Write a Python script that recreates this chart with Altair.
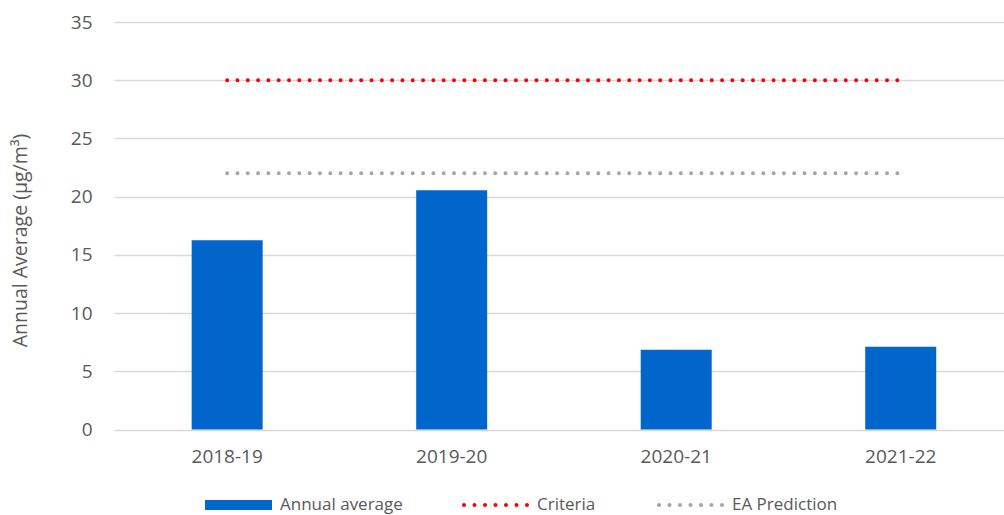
import altair as alt
import pandas as pd

# Annual mean concentration per monitoring year, with the two reference levels
years = ["2018-19", "2019-20", "2020-21", "2021-22"]
annual_average = [16.25, 20.55, 6.85, 7.1]
criteria = [30, 30, 30, 30]
ea_prediction = [22, 22, 22, 22]

series_names = ["Annual average", "Criteria", "EA Prediction"]
series_colors = ["#0066CC", "#FF0000", "#A6A6A6"]

bars = pd.DataFrame({"year": years, "value": annual_average, "series": series_names[0]})
crit = pd.DataFrame({"year": years, "value": criteria, "series": series_names[1]})
pred = pd.DataFrame({"year": years, "value": ea_prediction, "series": series_names[2]})

FONT = "Open Sans"
TEXT = "#595959"
GRID = "#D9D9D9"


# legend symbols: a flat bar swatch and a row of seven dots (unit box -1..1)
def dot_row(n=7, r=0.06, start=-0.94, end=0.94):
    step = (end - start) / (n - 1)
    parts = []
    for i in range(n):
        cx = start + i * step
        parts.append(
            f"M{cx - r:.4f},0 A{r},{r} 0 1,0 {cx + r:.4f},0 A{r},{r} 0 1,0 {cx - r:.4f},0 Z"
        )
    return " ".join(parts)


BAR_SWATCH = "M-1,-0.15 H1 V0.15 H-1 Z"
DOTS = dot_row()


def legend_for(x, shape, fill=None):
    kw = dict(
        title=None,
        orient="none",
        direction="horizontal",
        legendX=x,
        legendY=449.5,
        symbolType=shape,
        symbolSize=4489,
        symbolStrokeWidth=0,
        symbolOpacity=1,
        labelFont=FONT,
        labelFontSize=17,
        labelColor=TEXT,
        labelOffset=8,
    )
    if fill:
        kw["symbolFillColor"] = fill
    return alt.Legend(**kw)


x_enc = alt.X(
    "year:N",
    sort=years,
    scale=alt.Scale(paddingInner=0.684, paddingOuter=0.324, align=0.534),
    axis=alt.Axis(
        title=None, labelAngle=0, domain=False, ticks=False, grid=False,
        labelPadding=18, labelFont=FONT, labelFontSize=19, labelColor=TEXT,
    ),
)

y_scale = alt.Scale(domain=[0, 35], nice=False, zero=True)

bar_layer = alt.Chart(bars).mark_bar(size=71).encode(
    x=x_enc,
    y=alt.Y(
        "value:Q",
        scale=y_scale,
        axis=alt.Axis(
            values=[0, 5, 10, 15, 20, 25, 30, 35],
            grid=True, gridColor=GRID, gridWidth=1.5,
            domain=False, ticks=False,
            labelPadding=22, labelFont=FONT, labelFontSize=19, labelColor=TEXT,
            title="Annual Average (µg/m³)",
            titleFont=FONT, titleFontSize=19.5, titleFontWeight="normal", titleColor=TEXT,
            titleAngle=270, titleAlign="center", titleBaseline="middle",
            titleX=-94, titleY=218,
        ),
    ),
    color=alt.Color(
        "series:N",
        scale=alt.Scale(domain=[series_names[0]], range=[series_colors[0]]),
        legend=legend_for(91, BAR_SWATCH),
    ),
)


def level_layer(df, name, color, legend_x):
    return alt.Chart(df).mark_line(
        strokeWidth=4, strokeCap="round", strokeDash=[0.01, 10.3]
    ).encode(
        x=alt.X("year:N", sort=years),
        y=alt.Y("value:Q", scale=y_scale),
        color=alt.Color(
            "series:N",
            scale=alt.Scale(domain=[name], range=[color]),
            legend=legend_for(legend_x, DOTS, fill=color),
        ),
    )


crit_layer = level_layer(crit, series_names[1], series_colors[1], 348)
pred_layer = level_layer(pred, series_names[2], series_colors[2], 543)

chart = (
    alt.layer(bar_layer, crit_layer, pred_layer)
    .resolve_scale(color="independent")
    .resolve_legend(color="independent")
    .properties(
        width=890,
        height=407.5,
        padding={"left": 114, "top": 22, "right": 0, "bottom": 85.5},
        autosize=alt.AutoSizeParams(type="none"),
        background="white",
    )
    .configure_view(stroke=None)
)

chart.save("out.html", embed_options={"renderer": "svg", "actions": False})
